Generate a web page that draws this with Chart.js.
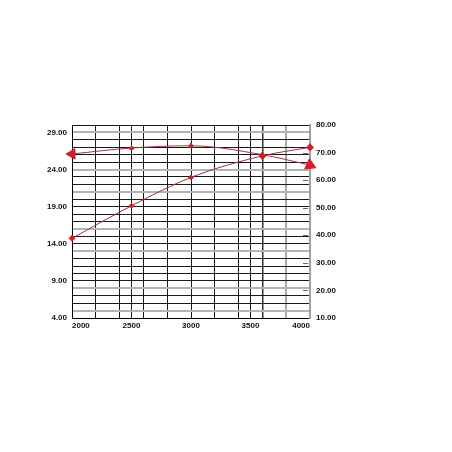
<!DOCTYPE html>
<html>
<head>
<meta charset="utf-8">
<script src="https://cdn.jsdelivr.net/npm/chart.js@4/dist/chart.umd.min.js"></script>
<style>
  html, body { margin: 0; padding: 0; background: #fff; }
  #wrap { width: 452px; height: 452px; }
</style>
</head>
<body>
<div id="wrap"><canvas id="chart"></canvas></div>
<script>
// engine speed (rpm) and the two curves
const rpm = [2000, 2500, 3000, 3600, 4000]
const torque = [26.1, 26.9, 27.2, 26.0, 24.6]   // left axis
const power = [38.9, 50.7, 61.0, 68.8, 71.9]    // right axis

// axis ticks
const xGrid = [2000, 2200, 2400, 2500, 2600, 2800, 3000, 3200, 3400, 3500, 3600, 3800, 4000]
const xLabels = [2000, 2500, 3000, 3500, 4000]
const leftGrid = [4, 5, 6, 7, 8, 9, 10, 11, 12, 13, 14, 15, 16, 17, 18, 19, 20, 21, 22, 23, 24, 25, 26, 27, 28, 29, 30]
const leftLabels = [4, 9, 14, 19, 24, 29]
const leftGreyLines = [5, 8, 13, 16, 21, 24, 29]
const rightTicks = [10, 20, 30, 40, 50, 60, 70, 80]

const lineRed = '#a3303c'
const markRed = '#d21f2b'
const font = { family: "'Liberation Sans', Arial, sans-serif", size: 8, weight: 'bold' }

// short tick marks drawn inside the right edge
const innerTicks = {
  id: 'innerTicks',
  afterDraw(chart) {
    const s = chart.scales.y2
    const ctx = chart.ctx
    ctx.save()
    ctx.strokeStyle = '#666'
    ctx.lineWidth = 1
    rightTicks.forEach(v => {
      if (v === 10 || v === 80) return
      const y = Math.round(s.getPixelForValue(v)) + 0.5
      ctx.beginPath()
      ctx.moveTo(s.left - 7, y)
      ctx.lineTo(s.left - 2, y)
      ctx.stroke()
    })
    ctx.restore()
  }
}

new Chart(document.getElementById('chart'), {
  type: 'line',
  data: {
    datasets: [
      {
        label: 'torque',
        data: rpm.map((x, i) => ({ x, y: torque[i] })),
        yAxisID: 'y',
        borderColor: lineRed,
        borderWidth: 1,
        backgroundColor: markRed,
        pointBackgroundColor: markRed,
        pointBorderColor: markRed,
        pointStyle: 'triangle',
        pointRadius: [6, 2.5, 3, 3, 6.5],
        pointRotation: [-90, 0, 0, 0, 115],
        cubicInterpolationMode: 'monotone',
        clip: false,
      },
      {
        label: 'power',
        data: rpm.map((x, i) => ({ x, y: power[i] })),
        yAxisID: 'y2',
        borderColor: lineRed,
        borderWidth: 1,
        backgroundColor: markRed,
        pointBackgroundColor: markRed,
        pointBorderColor: markRed,
        pointStyle: 'rectRot',
        pointRadius: [3, 2.5, 2.5, 3.5, 3.5],
        cubicInterpolationMode: 'monotone',
        clip: false,
      },
    ],
  },
  options: {
    responsive: true,
    maintainAspectRatio: false,
    animation: false,
    layout: { padding: { top: 125, left: 0, right: 0, bottom: 0 } },
    plugins: { legend: { display: false }, tooltip: { enabled: false } },
    scales: {
      x: {
        type: 'linear',
        min: 2000,
        max: 4000,
        afterBuildTicks: s => { s.ticks = xGrid.map(v => ({ value: v })) },
        afterFit: s => { s.height = 134 },
        ticks: {
          autoSkip: false,
          maxRotation: 0,
          align: 'inner',
          padding: 3,
          color: '#111',
          font,
          callback: v => (xLabels.includes(v) ? String(v) : ''),
        },
        grid: {
          drawTicks: false,
          color: c => {
            const v = c.tick && c.tick.value
            if (v === 3800 || v === 4000) return '#a8a8a8'
            if (v === 3600) return '#333'
            return '#1a1a1a'
          },
          lineWidth: c => {
            const v = c.tick && c.tick.value
            if (v === 3800 || v === 4000) return 2
            if (v === 3600) return 1.5
            return 1
          },
        },
        border: { display: true, color: '#000', width: 1 },
      },
      y: {
        position: 'left',
        min: 4,
        max: 30,
        afterBuildTicks: s => { s.ticks = leftGrid.map(v => ({ value: v })) },
        afterFit: s => { s.width = 72 },
        ticks: {
          autoSkip: false,
          padding: 5,
          color: '#111',
          font,
          callback: v => (leftLabels.includes(v) ? v.toFixed(2) : ''),
        },
        grid: {
          drawTicks: false,
          color: c => (leftGreyLines.includes(c.tick && c.tick.value) ? '#b4b4b4' : '#1a1a1a'),
          lineWidth: c => (leftGreyLines.includes(c.tick && c.tick.value) ? 2 : 1),
        },
        border: { display: true, color: '#000', width: 1 },
      },
      y2: {
        position: 'right',
        min: 10,
        max: 80,
        afterBuildTicks: s => { s.ticks = rightTicks.map(v => ({ value: v })) },
        afterFit: s => { s.width = 142 },
        ticks: {
          autoSkip: false,
          padding: 6,
          color: '#111',
          font,
          callback: v => v.toFixed(2),
        },
        grid: { drawOnChartArea: false, drawTicks: false },
        border: { display: true, color: '#a0a0a0', width: 2 },
      },
    },
  },
  plugins: [innerTicks],
})
</script>
</body>
</html>
